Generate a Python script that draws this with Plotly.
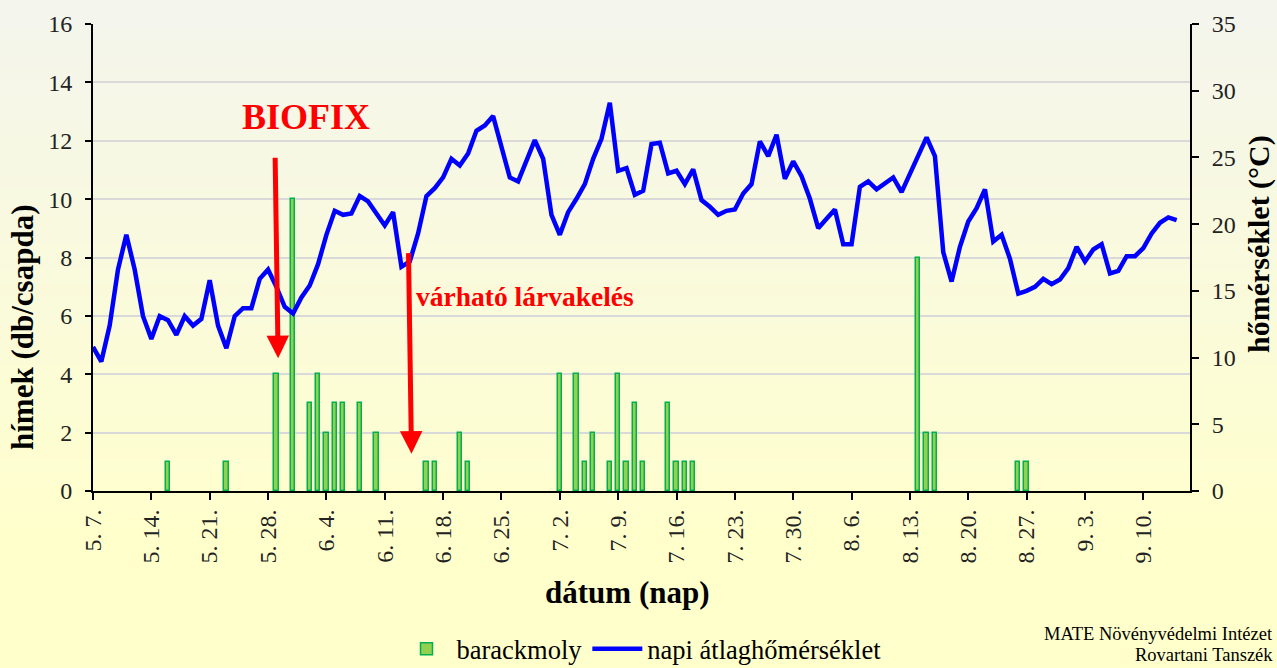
import pandas as pd
import plotly.graph_objects as go

# ---------------- data ----------------
start_date = "2023-05-07"
temperature = [
    10.8, 9.7, 12.4, 16.6, 19.2, 16.6, 13.1, 11.4, 13.1, 12.8,
    11.7, 13.1, 12.4, 12.9, 15.8, 12.4, 10.7, 13.1, 13.7, 13.7,
    15.9, 16.6, 15.3, 13.8, 13.3, 14.5, 15.4, 17.0, 19.2, 21.0,
    20.7, 20.8, 22.1, 21.7, 20.8, 19.9, 20.9, 16.8, 17.2, 19.3,
    22.1, 22.7, 23.5, 24.9, 24.4, 25.3, 27.0, 27.4, 28.1, 25.8,
    23.5, 23.2, 24.7, 26.3, 24.9, 20.7, 19.2, 20.9, 21.9, 23.0,
    24.9, 26.4, 29.1, 24.0, 24.2, 22.2, 22.5, 26.0, 26.1, 23.8,
    24.0, 23.0, 24.1, 21.8, 21.3, 20.7, 21.0, 21.1, 22.3, 23.0,
    26.2, 25.1, 26.7, 23.4, 24.7, 23.6, 21.9, 19.7, 20.4, 21.1,
    18.5, 18.5, 22.8, 23.2, 22.6, 23.1, 23.5, 22.4, 23.8, 25.3,
    26.5, 25.1, 17.9, 15.7, 18.3, 20.2, 21.2, 22.6, 18.7, 19.2,
    17.4, 14.8, 15.0, 15.3, 15.9, 15.5, 15.85, 16.7, 18.3, 17.2,
    18.1, 18.5, 16.3, 16.5, 17.6, 17.6, 18.2, 19.3, 20.1, 20.5,
    20.3,
]
temp_dates = pd.date_range(start_date, periods=len(temperature), freq="D")

bar_dates = [
    "2023-05-16", "2023-05-23", "2023-05-29", "2023-05-31", "2023-06-02",
    "2023-06-03", "2023-06-04", "2023-06-05", "2023-06-06", "2023-06-08",
    "2023-06-10", "2023-06-16", "2023-06-17", "2023-06-20", "2023-06-21",
    "2023-07-02", "2023-07-04", "2023-07-05", "2023-07-06", "2023-07-08",
    "2023-07-09", "2023-07-10", "2023-07-11", "2023-07-12", "2023-07-15",
    "2023-07-16", "2023-07-17", "2023-07-18", "2023-08-14", "2023-08-15",
    "2023-08-16", "2023-08-26", "2023-08-27",
]
bar_counts = [
    1, 1, 4, 10, 3, 4, 2, 3, 3, 3, 2, 1, 1, 2, 1,
    4, 4, 1, 2, 1, 4, 1, 3, 1, 3, 1, 1, 1,
    8, 2, 2, 1, 1,
]

tick_dates = [
    "2023-05-07", "2023-05-14", "2023-05-21", "2023-05-28", "2023-06-04",
    "2023-06-11", "2023-06-18", "2023-06-25", "2023-07-02", "2023-07-09",
    "2023-07-16", "2023-07-23", "2023-07-30", "2023-08-06", "2023-08-13",
    "2023-08-20", "2023-08-27", "2023-09-03", "2023-09-10",
]
tick_labels = [
    "5. 7.", "5. 14.", "5. 21.", "5. 28.", "6. 4.", "6. 11.", "6. 18.",
    "6. 25.", "7. 2.", "7. 9.", "7. 16.", "7. 23.", "7. 30.", "8. 6.",
    "8. 13.", "8. 20.", "8. 27.", "9. 3.", "9. 10.",
]

# ---------------- figure ----------------
W, H = 1277, 668
ML, MR, MT, MB = 93, 87, 24, 177
PW, PH = W - ML - MR, H - MT - MB


def px_x(p):
    return (p - ML) / PW


def px_y(p):
    return (H - MB - p) / PH


FONT = "Liberation Serif, Times New Roman, serif"
DAY_MS = 86400000

fig = go.Figure()

fig.add_trace(go.Bar(
    x=pd.to_datetime(bar_dates), y=bar_counts, name="barackmoly",
    width=0.52 * DAY_MS,
    marker=dict(color="#92D050", line=dict(color="#00B050", width=1.5)),
    yaxis="y",
))
fig.add_trace(go.Scatter(
    x=temp_dates, y=temperature, name="napi átlaghőmérséklet",
    mode="lines", line=dict(color="#0000FF", width=4.5),
    yaxis="y2",
))

# gradient background via stacked bands
shapes = []
n_bands = 40
top_c = (244, 245, 237)
bot_c = (255, 255, 204)
grad_end = 540
for i in range(n_bands):
    y0p = grad_end * i / n_bands
    y1p = grad_end * (i + 1) / n_bands + 1
    t = (i + 0.5) / n_bands
    c = tuple(round(top_c[k] + (bot_c[k] - top_c[k]) * t) for k in range(3))
    shapes.append(dict(type="rect", xref="paper", yref="paper",
                       x0=px_x(0), x1=px_x(W), y0=px_y(y1p), y1=px_y(y0p),
                       fillcolor="rgb(%d,%d,%d)" % c, line=dict(width=0),
                       layer="below"))
shapes.append(dict(type="rect", xref="paper", yref="paper",
                   x0=px_x(0), x1=px_x(W), y0=px_y(H), y1=px_y(grad_end),
                   fillcolor="rgb(255,255,204)", line=dict(width=0),
                   layer="below"))

annotations = [
    dict(text="<b>BIOFIX</b>", x="2023-06-01 13:00", y=12.8, xref="x", yref="y",
         xanchor="center", yanchor="middle", showarrow=False,
         font=dict(family=FONT, size=36, color="#FF0000")),
    dict(text="<b>várható lárvakelés</b>", x="2023-06-14 13:00", y=6.68,
         xref="x", yref="y", xanchor="left", yanchor="middle", showarrow=False,
         font=dict(family=FONT, size=27.5, color="#FF0000")),
    dict(text="", x="2023-05-29 05:00", y=4.55, xref="x", yref="y",
         showarrow=True, ax=-3, ay=-202, arrowcolor="#FF0000",
         arrowwidth=5, arrowhead=2, arrowsize=0.9),
    dict(text="", x="2023-06-14 05:00", y=1.28, xref="x", yref="y",
         showarrow=True, ax=-3, ay=-202, arrowcolor="#FF0000",
         arrowwidth=5, arrowhead=2, arrowsize=0.9),
    dict(text="<b>hímek (db/csapda)</b>", x=px_x(22), y=px_y(328),
         xref="paper", yref="paper", textangle=-90, showarrow=False,
         xanchor="center", yanchor="middle",
         font=dict(family=FONT, size=31, color="black")),
    dict(text="<b>hőmérséklet (°C)</b>", x=px_x(1259), y=px_y(244),
         xref="paper", yref="paper", textangle=-90, showarrow=False,
         xanchor="center", yanchor="middle",
         font=dict(family=FONT, size=30, color="black")),
    dict(text="<b>dátum (nap)</b>", x=px_x(627), y=px_y(592),
         xref="paper", yref="paper", showarrow=False,
         xanchor="center", yanchor="middle",
         font=dict(family=FONT, size=31, color="black")),
    dict(text="MATE Növényvédelmi Intézet", x=px_x(1275), y=px_y(634),
         xref="paper", yref="paper", xanchor="right", yanchor="middle",
         showarrow=False, font=dict(family=FONT, size=18.5, color="black")),
    dict(text="Rovartani Tanszék", x=px_x(1275), y=px_y(655),
         xref="paper", yref="paper", xanchor="right", yanchor="middle",
         showarrow=False, font=dict(family=FONT, size=18.5, color="black")),
]

x_start = pd.Timestamp(start_date)
fig.update_layout(
    width=W, height=H,
    margin=dict(l=ML, r=MR, t=MT, b=MB, autoexpand=False),
    paper_bgcolor="rgba(0,0,0,0)", plot_bgcolor="rgba(0,0,0,0)",
    template="none",
    font=dict(family=FONT, size=24, color="black"),
    bargap=0,
    showlegend=True,
    legend=dict(orientation="h", x=0.5, xanchor="center", y=px_y(649),
                yanchor="middle", bgcolor="rgba(0,0,0,0)",
                font=dict(family=FONT, size=26.5, color="black"),
                itemwidth=50),
    xaxis=dict(
        type="date",
        range=[x_start, x_start + pd.Timedelta(days=131.6)],
        tickmode="array", tickvals=pd.to_datetime(tick_dates),
        ticktext=tick_labels, tickangle=-90,
        ticks="outside", ticklen=7, tickwidth=2, tickcolor="black",
        showline=True, linecolor="black", linewidth=2,
        showgrid=False, zeroline=False, automargin=False,
        tickfont=dict(family=FONT, size=24, color="#222"),
    ),
    yaxis=dict(
        range=[0, 16], dtick=2, tick0=0,
        ticks="outside", ticklen=6, tickwidth=2, tickcolor="black",
        showline=True, linecolor="black", linewidth=2,
        showgrid=True, gridcolor="#D9D9D9", gridwidth=2,
        zeroline=False, automargin=False, ticklabelstandoff=8,
        tickfont=dict(family=FONT, size=24, color="#222"),
    ),
    yaxis2=dict(
        range=[0, 35], dtick=5, tick0=0, overlaying="y", side="right",
        ticks="outside", ticklen=7, tickwidth=2, tickcolor="black",
        showline=True, linecolor="black", linewidth=2,
        showgrid=False, zeroline=False, automargin=False,
        ticklabelstandoff=8,
        tickfont=dict(family=FONT, size=24, color="#222"),
    ),
    shapes=shapes,
    annotations=annotations,
)

fig.write_html(
    "out.html",
    config={"displayModeBar": False},
    post_script="document.body.style.margin='0';document.body.style.background='#FFFFCC';",
)
